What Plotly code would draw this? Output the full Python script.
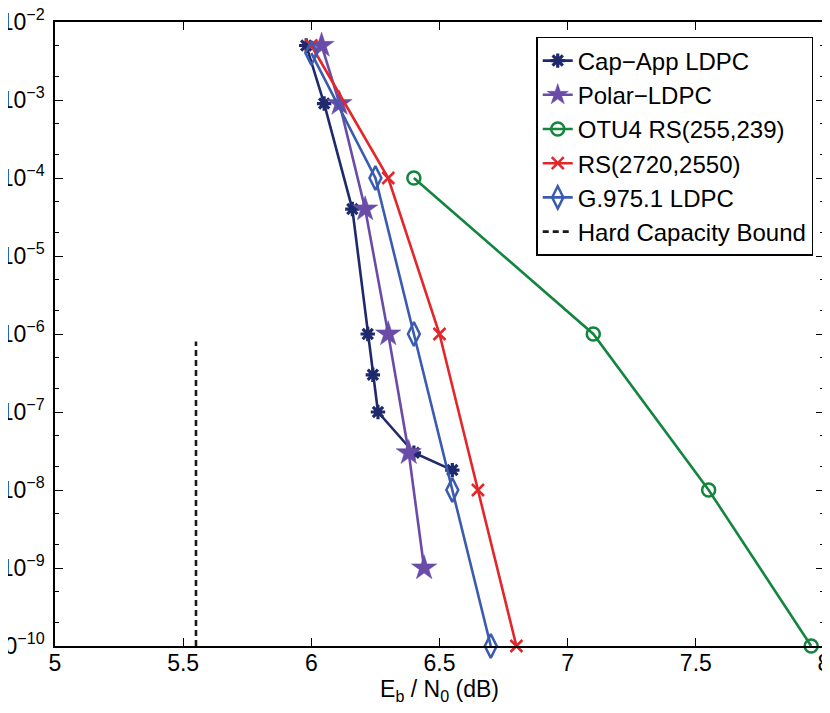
import plotly.graph_objects as go

# ---- data ----
cap_x = [5.98, 6.05, 6.16, 6.22, 6.24, 6.26, 6.40, 6.55]
cap_y = [5e-3, 9e-4, 4e-5, 1e-6, 3e-7, 1e-7, 3e-8, 1.8e-8]

polar_x = [6.04, 6.11, 6.21, 6.30, 6.38, 6.44]
polar_y = [5e-3, 9e-4, 4e-5, 1e-6, 3e-8, 1e-9]

otu4_x = [6.40, 7.10, 7.55, 7.95]
otu4_y = [1e-4, 1e-6, 1e-8, 1e-10]

rs_x = [6.00, 6.30, 6.50, 6.65, 6.80]
rs_y = [5e-3, 1e-4, 1e-6, 1e-8, 1e-10]

g975_x = [6.00, 6.25, 6.40, 6.55, 6.70]
g975_y = [4e-3, 1e-4, 1e-6, 1e-8, 1e-10]

bound_x = [5.55, 5.55]
bound_y = [1e-10, 8e-7]

x_ticks = [5, 5.5, 6, 6.5, 7, 7.5, 8]
x_ticklabels = ["5", "5.5", "6", "6.5", "7", "7.5", "8"]
y_exponents = [-10, -9, -8, -7, -6, -5, -4, -3, -2]

FONT = "Arial, Liberation Sans, sans-serif"

fig = go.Figure()

def add(x, y, name, color, symbol, size, group, mlw=2.5):
    fig.add_trace(go.Scatter(
        x=x, y=y, name=name, mode="lines+markers", legendgroup=group,
        line=dict(color=color, width=2.6),
        marker=dict(symbol=symbol, size=size, color=color,
                    line=dict(color=color, width=mlw)),
        cliponaxis=False,
    ))

add(cap_x, cap_y, "Cap\u2212App LDPC", "#1e2a6c", "asterisk-open", 12, "g1", mlw=3.2)
add(polar_x, polar_y, "Polar\u2212LDPC", "#6a4ca8", "star", 19, "g2", mlw=0.5)
add(otu4_x, otu4_y, "OTU4 RS(255,239)", "#13853e", "circle-open", 13, "g3")
add(rs_x, rs_y, "RS(2720,2550)", "#e3262a", "x-thin-open", 12, "g4")
add(g975_x, g975_y, "G.975.1 LDPC", "#3a5bb0", "diamond-tall-open", 17, "g5")
fig.add_trace(go.Scatter(
    x=bound_x, y=bound_y, name="Hard Capacity Bound", mode="lines", legendgroup="g6",
    line=dict(color="#1a1a1a", width=2.6, dash="6px,4px"), cliponaxis=False,
))

fig.update_layout(
    width=830, height=713,
    margin=dict(l=47, r=14, t=14, b=75),
    paper_bgcolor="white", plot_bgcolor="white",
    font=dict(family=FONT, size=23, color="black"),
    showlegend=True,
    legend=dict(
        x=0.986, y=0.976, xanchor="right", yanchor="top",
        bgcolor="white", bordercolor="black", borderwidth=1.5,
        font=dict(family=FONT, size=24, color="black"),
        traceorder="grouped", tracegroupgap=0,
        itemwidth=30,
    ),
    xaxis=dict(
        range=[5, 8], tickvals=x_ticks, ticktext=x_ticklabels,
        ticks="inside", ticklen=8, tickwidth=1, tickcolor="black",
        showline=True, linecolor="black", linewidth=1.5, mirror="ticks",
        showgrid=False, zeroline=False, automargin=False,
        ticklabelstandoff=-4, ticklabeloverflow="allow",
        tickfont=dict(family=FONT, size=23),
        title=dict(text="E<sub>b</sub> / N<sub>0</sub> (dB)", standoff=0,
                   font=dict(family=FONT, size=23)),
    ),
    yaxis=dict(
        type="log", range=[-10, -2],
        tickvals=[10.0 ** e for e in y_exponents],
        ticktext=["10<sup>\u2212%d</sup>" % (-e) for e in y_exponents],
        ticks="inside", ticklen=8, tickwidth=1, tickcolor="black",
        showline=True, linecolor="black", linewidth=1.5, mirror="ticks",
        showgrid=False, zeroline=False, automargin=False,
        ticklabelstandoff=4, ticklabeloverflow="allow",
        tickfont=dict(family=FONT, size=23),
        minor=dict(ticks="inside", ticklen=4, tickwidth=1, tickcolor="black", showgrid=False),
    ),
)

fig.write_html("out.html")
